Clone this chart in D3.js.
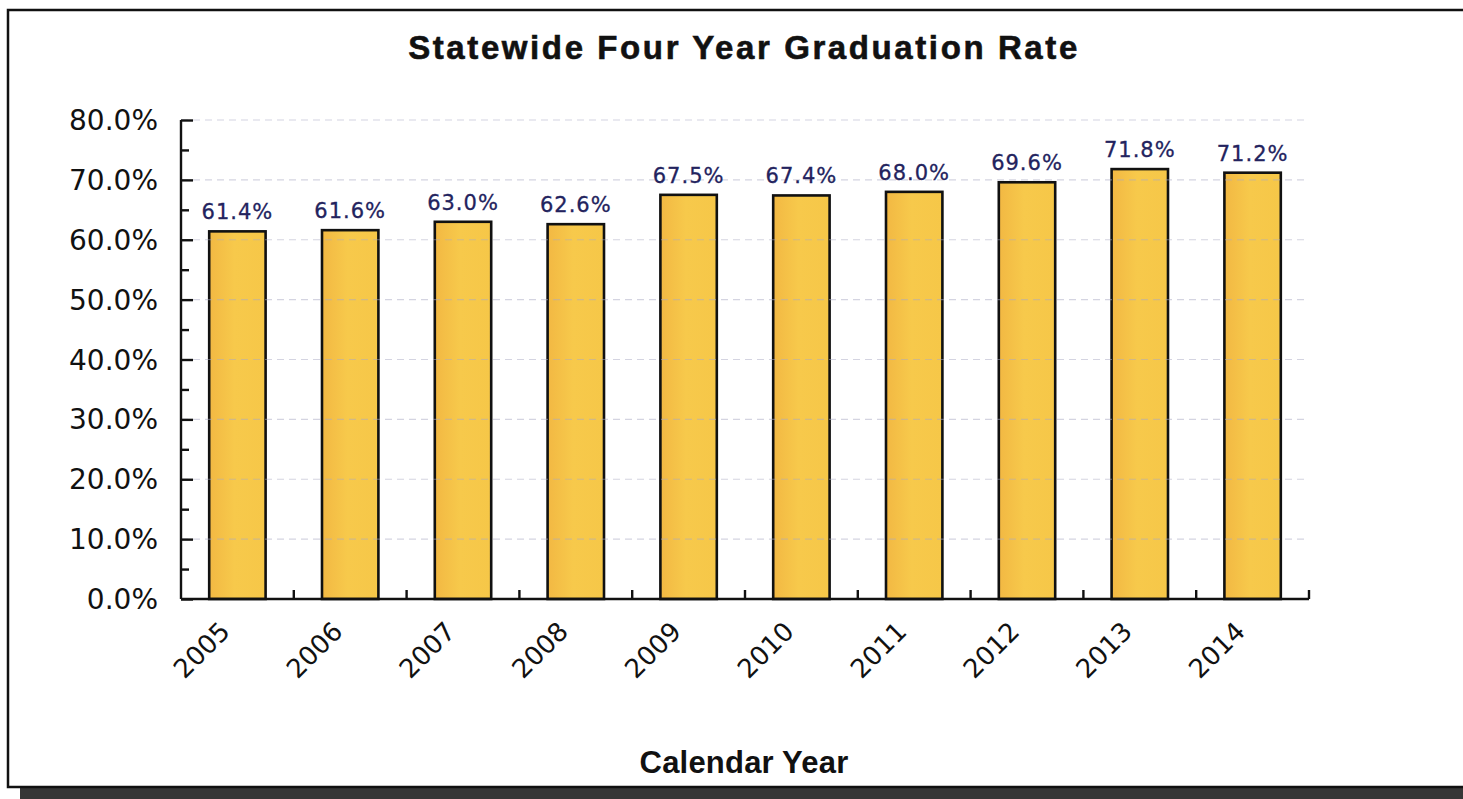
<!DOCTYPE html>
<html>
<head>
<meta charset="utf-8">
<script src="https://cdn.jsdelivr.net/npm/d3@7"></script>
<style>
  html, body { margin: 0; padding: 0; background: #ffffff; }
  svg { display: block; }
</style>
</head>
<body>
<svg id="chart" width="1463" height="799"></svg>
<script>
const years = ["2005","2006","2007","2008","2009","2010","2011","2012","2013","2014"];
const rates = [61.4, 61.6, 63.0, 62.6, 67.5, 67.4, 68.0, 69.6, 71.8, 71.2];
const yTickValues = [0, 10, 20, 30, 40, 50, 60, 70, 80];
const yMinorTickValues = [5, 15, 25, 35, 45, 55, 65, 75];
const titleText = "Statewide Four Year Graduation Rate";
const xAxisTitle = "Calendar Year";

const svg = d3.select("#chart");
const W = 1463, H = 799;
const plot = { left: 181, right: 1309, top: 120, bottom: 599 };

// frame + shadow
svg.append("rect").attr("x", 20).attr("y", 788).attr("width", W - 20).attr("height", 11).attr("fill", "#363636");
svg.append("rect").attr("x", 8).attr("y", 10).attr("width", W + 20).attr("height", 777)
  .attr("fill", "#ffffff").attr("stroke", "#111").attr("stroke-width", 2.5);

const defs = svg.append("defs");
const grad = defs.append("linearGradient").attr("id", "barGrad").attr("x1", "0").attr("x2", "1").attr("y1", "0").attr("y2", "0");
grad.append("stop").attr("offset", "0%").attr("stop-color", "#F2B843");
grad.append("stop").attr("offset", "45%").attr("stop-color", "#F7C94B");
grad.append("stop").attr("offset", "100%").attr("stop-color", "#F6C748");

const x = d3.scaleBand().domain(years).range([plot.left, plot.right]).paddingInner(0.5).paddingOuter(0.25);
const xBand = d3.scaleBand().domain(years).range([plot.left, plot.right]).padding(0);
const y = d3.scaleLinear().domain([0, 80]).range([plot.bottom, plot.top]);

// title
svg.append("text").attr("x", 744).attr("y", 59).attr("text-anchor", "middle")
  .attr("font-family", "Liberation Sans, Arial, sans-serif").attr("font-weight", "bold")
  .attr("font-size", 33).attr("letter-spacing", 2.6).attr("fill", "#111")
  .attr("stroke", "#111").attr("stroke-width", 0.6).text(titleText);

// bars
svg.append("g").selectAll("rect").data(rates).join("rect")
  .attr("x", (d, i) => x(years[i]))
  .attr("y", d => y(d))
  .attr("width", x.bandwidth())
  .attr("height", d => y(0) - y(d))
  .attr("fill", "url(#barGrad)")
  .attr("stroke", "#111").attr("stroke-width", 2.6);

// gridlines (drawn faintly over bars)
svg.append("g").selectAll("line").data(yTickValues.filter(v => v > 0)).join("line")
  .attr("x1", plot.left).attr("x2", plot.right)
  .attr("y1", d => y(d)).attr("y2", d => y(d))
  .attr("stroke", "#a9a9c4").attr("stroke-opacity", 0.5).attr("stroke-width", 1.2)
  .attr("stroke-dasharray", "7,5");

// y axis
const yAxis = d3.axisRight(y).tickValues(yTickValues).tickSize(12).tickFormat("");
const gy = svg.append("g").attr("transform", `translate(${plot.left},0)`).call(yAxis);
gy.select(".domain").attr("stroke", "#111").attr("stroke-width", 2.4).attr("d", `M0,${plot.top}V${plot.bottom}`);
gy.selectAll(".tick line").attr("stroke", "#111").attr("stroke-width", 2.4);
const yMinor = d3.axisRight(y).tickValues(yMinorTickValues).tickSize(8).tickFormat("");
const gym = svg.append("g").attr("transform", `translate(${plot.left},0)`).call(yMinor);
gym.select(".domain").remove();
gym.selectAll(".tick line").attr("stroke", "#111").attr("stroke-width", 2.4);

svg.append("g").selectAll("text").data(yTickValues).join("text")
  .attr("x", 158).attr("y", d => y(d) + 10).attr("text-anchor", "end")
  .attr("font-family", "DejaVu Sans, sans-serif").attr("font-size", 28).attr("fill", "#111")
  .text(d => d3.format(".1f")(d) + "%");

// x axis
const xAxis = d3.axisTop(xBand).tickSize(0).tickFormat("");
const gx = svg.append("g").attr("transform", `translate(0,${plot.bottom})`).call(xAxis);
gx.select(".domain").attr("stroke", "#111").attr("stroke-width", 2.4).attr("d", `M${plot.left},0H${plot.right}`);
gx.selectAll(".tick").remove();
const boundaries = years.map(yv => xBand(yv) + xBand.bandwidth());
gx.selectAll("line.bt").data(boundaries).join("line").attr("class", "bt")
  .attr("x1", d => d).attr("x2", d => d).attr("y1", 0).attr("y2", -9)
  .attr("stroke", "#111").attr("stroke-width", 2.4);

svg.append("g").selectAll("text").data(years).join("text")
  .attr("transform", d => `translate(${xBand(d) + xBand.bandwidth() / 2 - 6},633) rotate(-45)`)
  .attr("text-anchor", "end")
  .attr("font-family", "DejaVu Sans, sans-serif").attr("font-size", 26).attr("fill", "#111")
  .text(d => d);

// value labels
svg.append("g").selectAll("text").data(rates).join("text")
  .attr("x", (d, i) => x(years[i]) + x.bandwidth() / 2)
  .attr("y", d => y(d) - 12)
  .attr("text-anchor", "middle")
  .attr("font-family", "DejaVu Sans, sans-serif").attr("font-size", 21).attr("letter-spacing", 1)
  .attr("fill", "#23235e").attr("stroke", "#23235e").attr("stroke-width", 0.3)
  .text(d => d3.format(".1f")(d) + "%");

// x axis title
svg.append("text").attr("x", 744).attr("y", 773).attr("text-anchor", "middle")
  .attr("font-family", "Liberation Sans, Arial, sans-serif").attr("font-weight", "bold")
  .attr("font-size", 31).attr("letter-spacing", 0.2).attr("fill", "#111").text(xAxisTitle);
</script>
</body>
</html>
